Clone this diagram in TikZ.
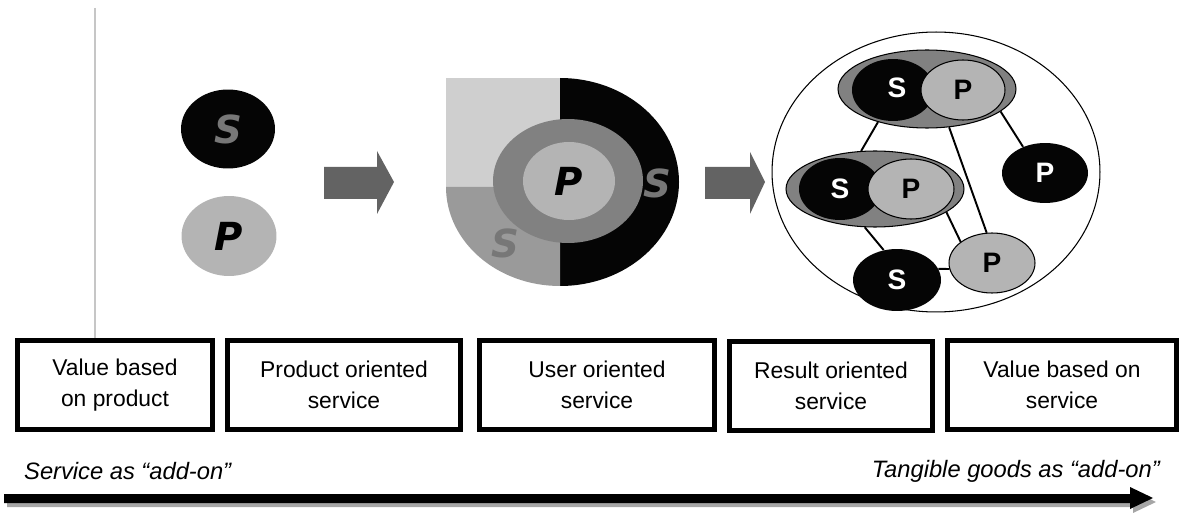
\documentclass[tikz,border=0pt]{standalone}
\usepackage{fontspec}
\setmainfont{Liberation Sans}
\newfontfamily\slantfont{DejaVu Sans}
\usetikzlibrary{shapes.geometric}

\definecolor{psdark}{HTML}{050505}
\definecolor{pslight}{HTML}{B4B4B4}
\definecolor{psring}{HTML}{818181}
\definecolor{psgrey}{HTML}{777777}
\definecolor{pspale}{HTML}{CFCFCF}
\definecolor{psmid}{HTML}{9A9A9A}
\definecolor{psblock}{HTML}{636363}
\definecolor{psrule}{HTML}{C6C6C6}
\definecolor{psshade}{HTML}{A6A6A6}

\begin{document}
\begin{tikzpicture}[
  x=0.02cm, y=-0.02cm,
  font=\fontsize{13}{18}\selectfont,
  oval/.style 2 args={ellipse, inner sep=0pt, minimum width=#1, minimum height=#2},
  bigletter/.style={font=\slantfont\bfseries\itshape\fontsize{22}{22}\selectfont},
  smallletter/.style={font=\bfseries\fontsize{16}{16}\selectfont},
  pair/.style={draw=black, line width=0.6pt, fill=psring},
  dark/.style={fill=psdark, text=white, smallletter},
  light/.style={fill=pslight, draw=black, line width=0.6pt, smallletter},
  link/.style={draw=black, line width=1.1pt},
  block/.style={fill=psblock},
  stage/.style={draw=black, line width=0.1cm, minimum height=1.78cm, align=center},
  tag/.style={font=\itshape\fontsize{13.5}{16}\selectfont},
]
  \useasboundingbox (0,0) rectangle (1197,513);

  % thin rule on the left
  \draw[psrule, line width=1pt] (95,8) -- (95,338);

  % value based on product
  \node[oval={1.88cm}{1.58cm}, fill=psdark, text=psgrey, bigletter] (sleft) at (228,129) {S};
  \node[oval={1.9cm}{1.6cm}, fill=pslight, bigletter] (pleft) at (229,236) {P};

  % block arrows
  \fill[block] (324,167) -- (377,167) -- (377,151) -- (394,182) -- (377,214) -- (377,199) -- (324,199) -- cycle;
  \fill[block] (705,167) -- (750,167) -- (750,152) -- (765,182) -- (750,214) -- (750,199) -- (705,199) -- cycle;

  % user oriented
  \fill[pspale] (446,78) rectangle (560,187);
  \fill[psdark] (560,78) arc[start angle=-90, end angle=90, x radius=119, y radius=104] -- cycle;
  \fill[psmid] (560,187) -- (446,187) arc[start angle=180, end angle=90, x radius=114, y radius=99] -- cycle;
  \node[oval={3cm}{2.48cm}, fill=psring] (userring) at (568,181) {};
  \node[oval={1.84cm}{1.56cm}, fill=pslight, bigletter] (userp) at (569,181) {P};
  \node[bigletter, text=psgrey] (users) at (657,183) {S};
  \node[bigletter, text=psgrey] (userslow) at (505,243) {S};

  % result oriented
  \node[oval={6.56cm}{5.6cm}, draw=black, line width=0.6pt] (resultring) at (936,172) {};
  \node[oval={3.56cm}{1.56cm}, pair] (pairtop) at (927,89) {};
  \node[oval={1.64cm}{1.24cm}, dark] (stop) at (893,90) {};
  \node[oval={1.68cm}{1.2cm}, light] (ptop) at (963,90) {P};
  \node[smallletter, text=white] (stoplbl) at (897,88) {S};
  \node[oval={3.56cm}{1.52cm}, pair] (pairmid) at (875,189) {};
  \node[oval={1.64cm}{1.24cm}, dark] (smid) at (840,189) {};
  \node[oval={1.72cm}{1.2cm}, light] (pmid) at (911,189) {P};
  \node[smallletter, text=white] (smidlbl) at (840,189) {S};
  \node[oval={1.72cm}{1.2cm}, dark] (pright) at (1045,173) {P};
  \node[oval={1.76cm}{1.24cm}, dark] (slow) at (897,280) {S};
  \node[oval={1.72cm}{1.2cm}, light] (plow) at (992,263) {P};
  \draw[link] (pairtop.214) -- (pairmid.110);
  \draw[link] (pairtop.300) -- (plow.100);
  \draw[link] (pairtop.343) -- (pright.130);
  \draw[link] (pairmid.255) -- (slow.114);
  \draw[link] (pairmid.342) -- (plow.146);
  \draw[link] (slow.15) -- (plow.188);

  % stages
  \node[stage, minimum width=3.9cm] (valueproduct) at (115,385) {Value based\\on product};
  \node[stage, minimum width=4.66cm] (productservice) at (344,385) {Product oriented\\service};
  \node[stage, minimum width=4.72cm] (userservice) at (597,385) {User oriented\\service};
  \node[stage, minimum width=4.06cm] (resultservice) at (831,386) {Result oriented\\service};
  \node[stage, minimum width=4.6cm] (valueservice) at (1062,385) {Value based on\\service};

  % direction
  \node[tag, anchor=west] (serviceaddon) at (18,471) {Service as “add-on”};
  \node[tag, anchor=east] (goodsaddon) at (1166,471) {Tangible goods as “add-on”};
  \fill[psshade, shift={(3,4)}] (4,494) -- (1130,494) -- (1130,487) -- (1153,498) -- (1130,509) -- (1130,503) -- (4,503) -- cycle;
  \fill[black] (4,494) -- (1130,494) -- (1130,487) -- (1153,498) -- (1130,509) -- (1130,503) -- (4,503) -- cycle;
\end{tikzpicture}
\end{document}
